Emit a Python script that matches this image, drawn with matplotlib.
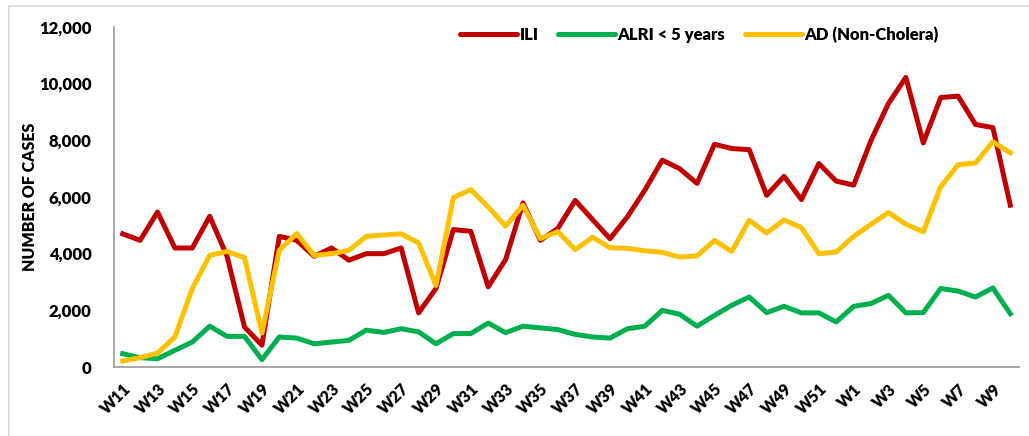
import matplotlib.pyplot as plt
from matplotlib.patches import Rectangle
import numpy as np

weeks = ['W%d' % w for w in range(11, 53)] + ['W%d' % w for w in range(1, 11)]

ili = [4700, 4470, 5470, 4200, 4200, 5320, 3900, 1410, 770, 4610, 4470, 3910, 4200,
       3770, 4000, 4000, 4200, 1910, 2770, 4850, 4790, 2830, 3790, 5790, 4470, 4890,
       5880, 5200, 4530, 5300, 6240, 7300, 7000, 6480, 7860, 7710, 7670, 6060, 6730,
       5910, 7180, 6560, 6420, 8000, 9300, 10220, 7910, 9510, 9560, 8560, 8450, 5710]
alri = [470, 330, 290, 590, 880, 1440, 1080, 1080, 260, 1060, 1020, 820, 880,
        940, 1300, 1220, 1350, 1240, 820, 1180, 1180, 1550, 1210, 1440, 1380, 1320,
        1150, 1060, 1020, 1350, 1440, 2000, 1860, 1440, 1820, 2180, 2470, 1920, 2140,
        1910, 1910, 1590, 2140, 2240, 2530, 1910, 1920, 2770, 2680, 2470, 2790, 1880]
ad = [210, 330, 490, 1060, 2770, 3940, 4080, 3860, 1200, 4120, 4710, 3940, 4000,
      4120, 4610, 4660, 4700, 4380, 2880, 5980, 6260, 5650, 4970, 5710, 4530, 4780,
      4140, 4580, 4210, 4190, 4100, 4050, 3880, 3920, 4470, 4080, 5180, 4730, 5190,
      4920, 4000, 4060, 4610, 5040, 5450, 5040, 4770, 6360, 7140, 7200, 7950, 7560]

plt.rcParams['font.family'] = ['Lato', 'DejaVu Sans']
W = 'heavy'

fig = plt.figure(figsize=(10.29, 4.36), dpi=100)
# light frame of the chart area
fig.patches.append(Rectangle((9 / 1029, -0.1), 1.2, 1 - 6 / 436 + 0.1,
                             transform=fig.transFigure, fill=False,
                             edgecolor='#D9D9D9', linewidth=1.2))

ax = fig.add_axes([114 / 1029, 1 - 367 / 436, 905 / 1029, 340 / 436])
x = np.arange(len(weeks))
ax.plot(x, ili, color='#C00000', lw=3.6, label='ILI', solid_joinstyle='round')
ax.plot(x, alri, color='#00B050', lw=3.6, label='ALRI < 5 years', solid_joinstyle='round')
ax.plot(x, ad, color='#FFC000', lw=3.6, label='AD (Non-Cholera)', solid_joinstyle='round')

ax.set_xlim(-0.5, len(weeks) - 0.5)
ax.set_ylim(0, 12000)
ax.set_yticks(range(0, 12001, 2000))
ax.set_yticklabels(['{:,}'.format(v) for v in range(0, 12001, 2000)],
                   fontsize=12, fontweight=W)
ax.set_xticks(x[::2])
ax.set_xticklabels(weeks[::2], rotation=45, ha='right', rotation_mode='anchor',
                   fontsize=11.5, fontweight=W)
ax.tick_params(axis='both', length=0)
ax.tick_params(axis='x', pad=10)
ax.tick_params(axis='y', pad=16)

for s in ['top', 'right']:
    ax.spines[s].set_visible(False)
for s in ['left', 'bottom']:
    ax.spines[s].set_color('#A0A0A0')
    ax.spines[s].set_linewidth(1.3)

ax.set_ylabel('NUMBER OF CASES', fontsize=11.5, fontweight=W)
ax.yaxis.set_label_coords(-0.084, 0.5)

leg = ax.legend(loc='upper left', bbox_to_anchor=(0.366, 1.045), ncol=3, frameon=False,
                fontsize=12, handlelength=3.4, columnspacing=1.2, handletextpad=0.15)
for line in leg.get_lines():
    line.set_solid_capstyle('round')
for t in leg.get_texts():
    t.set_fontweight(W)

fig.savefig('out.png', dpi=100)
